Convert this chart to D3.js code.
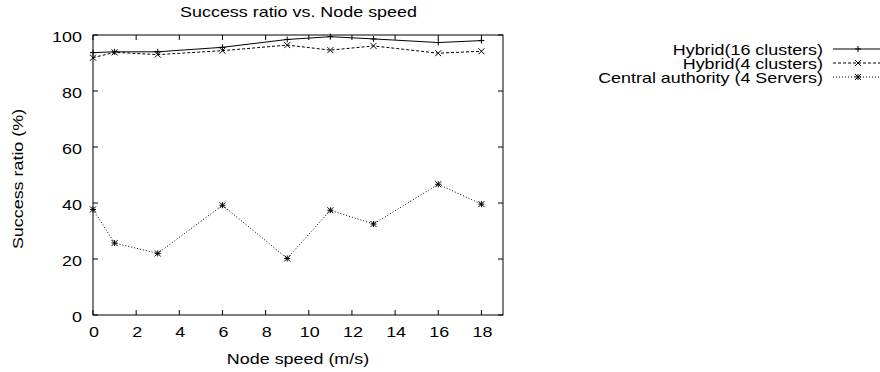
<!DOCTYPE html>
<html>
<head>
<meta charset="utf-8">
<script src="https://cdn.jsdelivr.net/npm/d3@7"></script>
<style>
  body { margin: 0; background: #fff; }
  text { font-family: "Liberation Sans", Arial, sans-serif; fill: #000; }
</style>
</head>
<body>
<div id="chart"></div>
<script>
// data
var speeds = [0, 1, 3, 6, 9, 11, 13, 16, 18];
var hybrid16 = [93.7, 94.0, 94.0, 95.6, 98.4, 99.4, 98.6, 97.3, 98.0];
var hybrid4 = [91.9, 93.8, 93.0, 94.4, 96.4, 94.6, 96.1, 93.5, 94.2];
var central = [37.7, 25.7, 22.0, 39.2, 20.2, 37.4, 32.5, 46.7, 39.6];
var xTicks = [0, 2, 4, 6, 8, 10, 12, 14, 16, 18];
var yTicks = [0, 20, 40, 60, 80, 100];
var seriesNames = ["Hybrid(16 clusters)", "Hybrid(4 clusters)", "Central authority (4 Servers)"];

var width = 880, height = 372;
var margin = { top: 35, left: 93, right: 377, bottom: 57 };

var svg = d3.select("#chart").append("svg")
    .attr("width", width)
    .attr("height", height);

var x = d3.scaleLinear().domain([0, 19]).range([margin.left, width - margin.right]);
var y = d3.scaleLinear().domain([0, 100]).range([height - margin.bottom, margin.top]);

// the original font is wide, so stretch text along its baseline
function label(px, py, str, anchor, rot) {
    return svg.append("text")
        .attr("transform", "translate(" + px + "," + py + ")" + (rot ? " rotate(" + rot + ")" : "") + " scale(1.28,1)")
        .attr("text-anchor", anchor)
        .attr("font-size", 14)
        .text(str);
}

// frame
svg.append("rect")
    .attr("x", x(0)).attr("y", y(100))
    .attr("width", x(19) - x(0)).attr("height", y(0) - y(100))
    .attr("fill", "none").attr("stroke", "#000").attr("stroke-width", 1);

// ticks, inward on all four sides (gnuplot style)
var tl = 5;
xTicks.forEach(function(t) {
    svg.append("line").attr("x1", x(t)).attr("x2", x(t)).attr("y1", y(0)).attr("y2", y(0) - tl).attr("stroke", "#000");
    svg.append("line").attr("x1", x(t)).attr("x2", x(t)).attr("y1", y(100)).attr("y2", y(100) + tl).attr("stroke", "#000");
    label(x(t) + 1, y(0) + 22, t, "middle");
});
yTicks.forEach(function(t) {
    svg.append("line").attr("x1", x(0)).attr("x2", x(0) + tl).attr("y1", y(t)).attr("y2", y(t)).attr("stroke", "#000");
    svg.append("line").attr("x1", x(19)).attr("x2", x(19) - tl).attr("y1", y(t)).attr("y2", y(t)).attr("stroke", "#000");
    label(x(0) - 11, y(t) + 6.5, t, "end");
});

// titles
label(298.5, 17, "Success ratio vs. Node speed", "middle");
label((x(0) + x(19)) / 2, 364, "Node speed (m/s)", "middle");
label(23, 179, "Success ratio (%)", "middle", -90);

// markers
function plus(g, cx, cy, s) {
    g.append("path").attr("d", "M" + (cx - s) + "," + cy + "H" + (cx + s) + "M" + cx + "," + (cy - s) + "V" + (cy + s))
        .attr("stroke", "#000").attr("fill", "none");
}
function cross(g, cx, cy, s) {
    g.append("path").attr("d", "M" + (cx - s) + "," + (cy - s) + "L" + (cx + s) + "," + (cy + s) + "M" + (cx - s) + "," + (cy + s) + "L" + (cx + s) + "," + (cy - s))
        .attr("stroke", "#000").attr("fill", "none");
}
function star(g, cx, cy, s) {
    plus(g, cx, cy, s);
    cross(g, cx, cy, s);
}

var series = [
    { name: seriesNames[0], values: hybrid16, dash: null, marker: plus },
    { name: seriesNames[1], values: hybrid4, dash: "3,2", marker: cross },
    { name: seriesNames[2], values: central, dash: "1,2", marker: star }
];

var line = d3.line()
    .x(function(d) { return x(d[0]); })
    .y(function(d) { return y(d[1]); });

series.forEach(function(s, i) {
    var pts = speeds.map(function(sp, j) { return [sp, s.values[j]]; });
    var g = svg.append("g");
    g.append("path")
        .datum(pts)
        .attr("d", line)
        .attr("fill", "none")
        .attr("stroke", "#000")
        .attr("stroke-width", 1)
        .attr("stroke-dasharray", s.dash);
    pts.forEach(function(p) { s.marker(g, x(p[0]), y(p[1]), 3); });

    // legend
    var ly = 49 + i * 14;
    label(823, ly + 5.5, s.name, "end");
    svg.append("line").attr("x1", 833).attr("x2", 880).attr("y1", ly).attr("y2", ly)
        .attr("stroke", "#000").attr("stroke-dasharray", s.dash);
    s.marker(svg, 858, ly, 3);
});
</script>
</body>
</html>
